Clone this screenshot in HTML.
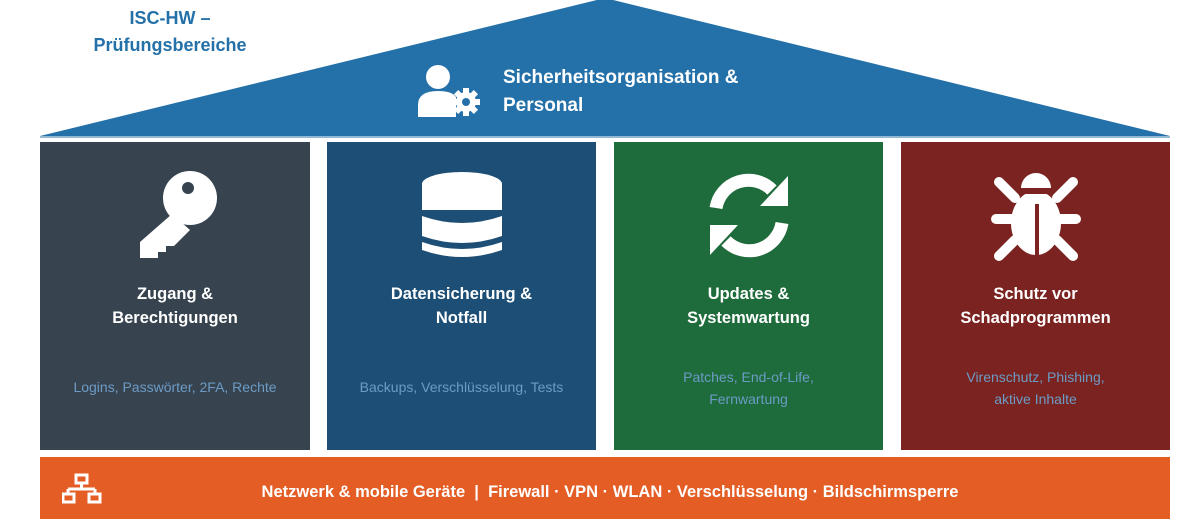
<!DOCTYPE html>
<html><head><meta charset="utf-8"><style>
body{margin:0;width:1200px;height:528px;background:#fff;position:relative;overflow:hidden;font-family:"Liberation Sans",Carlito,sans-serif}
.b{position:absolute;top:142px;height:308px;color:#fff;text-align:center}
.t{position:absolute;left:0;right:0;top:140px;font-weight:bold;font-size:16.5px;line-height:24px}
.s{position:absolute;left:0;right:0;top:224px;font-size:14px;line-height:22px;color:#6c9cc6}
.ic{position:absolute;left:50%;top:26px;transform:translateX(-50%)}
</style></head><body>
<svg width="1200" height="140" style="position:absolute;left:0;top:0">
<polygon points="40,136 605,-2 1170,136" fill="#2470a8"/>
<line x1="40" y1="137" x2="1170" y2="137" stroke="#2470a8" stroke-width="1"/>
<circle cx="438" cy="77" r="12" fill="#fff"/>
<path d="M418 117 v-12 q0 -14 20 -14 q14 0 18 6 v20 z" fill="#fff"/>
<circle cx="466" cy="102" r="10" fill="#fff"/>
<g fill="#fff"><rect x="463" y="88" width="6" height="28"/><rect x="452" y="99" width="28" height="6"/>
<rect x="463" y="88" width="6" height="28" transform="rotate(45 466 102)"/><rect x="463" y="88" width="6" height="28" transform="rotate(-45 466 102)"/></g>
<circle cx="466" cy="102" r="4" fill="#2470a8"/>
<text x="503" y="83" fill="#fff" font-weight="bold" font-size="19" font-family="Liberation Sans,sans-serif">Sicherheitsorganisation &amp;</text>
<text x="503" y="111" fill="#fff" font-weight="bold" font-size="19" font-family="Liberation Sans,sans-serif">Personal</text>
</svg>
<div style="position:absolute;left:75px;top:5px;width:190px;text-align:center;color:#2470a8;font-size:18px;line-height:27px;font-weight:bold">ISC-HW –<br>Prüfungsbereiche</div>

<div class="b" style="left:40px;width:270px;background:#37434f">
<svg class="ic" width="90" height="95" viewBox="0 0 90 95"><circle cx="60" cy="30" r="27" fill="#fff"/><circle cx="58" cy="20" r="6" fill="#37434f"/>
<path d="M42 46 L10 74 V90 H28 V84 H36 V78 H44 L60 62 Z" fill="#fff"/></svg>
<div class="t">Zugang &amp;<br>Berechtigungen</div><div class="s" style="top:234px">Logins, Passwörter, 2FA, Rechte</div></div>

<div class="b" style="left:327px;width:269px;background:#1d4e75">
<svg class="ic" width="90" height="95" viewBox="0 0 90 95"><ellipse cx="45" cy="16" rx="40" ry="12" fill="#fff"/><rect x="5" y="16" width="80" height="26" fill="#fff"/>
<path d="M5 48 q40 14 80 0 v20 q-40 14 -80 0z" fill="#fff"/><path d="M5 74 q40 14 80 0 v8 q-40 14 -80 0z" fill="#fff"/></svg>
<div class="t">Datensicherung &amp;<br>Notfall</div><div class="s" style="top:234px">Backups, Verschlüsselung, Tests</div></div>

<div class="b" style="left:614px;width:269px;background:#1e6b3b">
<svg class="ic" width="90" height="95" viewBox="0 0 90 95"><g fill="none" stroke="#fff" stroke-width="13"><path d="M12 40 A33 33 0 0 1 68 22"/><path d="M78 55 A33 33 0 0 1 22 73"/></g>
<polygon points="84,8 84,38 56,38" fill="#fff"/><polygon points="6,87 6,57 34,57" fill="#fff"/></svg>
<div class="t">Updates &amp;<br>Systemwartung</div><div class="s">Patches, End-of-Life,<br>Fernwartung</div></div>

<div class="b" style="left:901px;width:269px;background:#7a2320">
<svg class="ic" width="90" height="95" viewBox="0 0 90 95"><path d="M30 20 a15 15 0 0 1 30 0z" fill="#fff"/>
<ellipse cx="45" cy="55" rx="25" ry="32" fill="#fff"/><rect x="20" y="22" width="50" height="4" fill="#7a2320"/>
<rect x="44" y="36" width="4" height="52" fill="#7a2320"/>
<g stroke="#fff" stroke-width="10" stroke-linecap="round"><line x1="8" y1="14" x2="24" y2="30"/><line x1="82" y1="14" x2="66" y2="30"/><line x1="5" y1="51" x2="22" y2="51"/><line x1="85" y1="51" x2="68" y2="51"/><line x1="8" y1="88" x2="24" y2="72"/><line x1="82" y1="88" x2="66" y2="72"/></g></svg>
<div class="t">Schutz vor<br>Schadprogrammen</div><div class="s">Virenschutz, Phishing,<br>aktive Inhalte</div></div>

<div style="position:absolute;left:40px;top:457px;width:1130px;height:62px;background:#e35d25;color:#fff">
<svg width="40" height="34" style="position:absolute;left:22px;top:16px" fill="none" stroke="#fff" stroke-width="3"><rect x="14" y="2" width="11" height="8"/><path d="M19.5 10 v6 M6 16 h27 M6 16 v5 M33 16 v5"/><rect x="1" y="21" width="11" height="8"/><rect x="27" y="21" width="11" height="8"/></svg>
<div style="position:absolute;left:0;right:0;top:26px;text-align:center;font-weight:bold;font-size:16.5px;padding-left:10px">Netzwerk &amp; mobile Geräte &nbsp;| &nbsp;Firewall · VPN · WLAN · Verschlüsselung · Bildschirmsperre</div></div>
</body></html>
